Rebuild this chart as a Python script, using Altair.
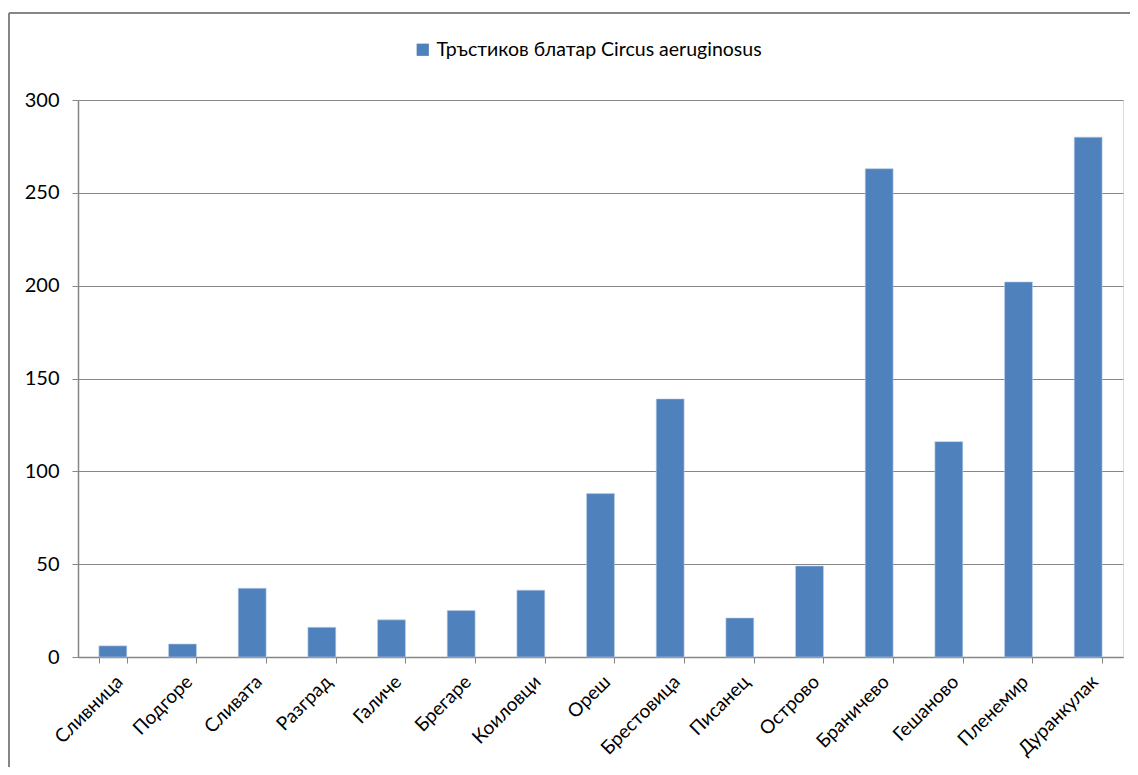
import altair as alt
import pandas as pd

categories = ["Сливница", "Подгоре", "Сливата", "Разград", "Галиче", "Брегаре", "Коиловци",
              "Ореш", "Брестовица", "Писанец", "Острово", "Браничево", "Гешаново", "Пленемир", "Дуранкулак"]
values = [6, 7, 37, 16, 20, 25, 36, 88, 139, 21, 49, 263, 116, 202, 280]
series_name = "Тръстиков блатар Circus aeruginosus"
y_ticks = [0, 50, 100, 150, 200, 250, 300]

df = pd.DataFrame({"place": categories, "value": values, "series": series_name})

FONT = "Lato"
GREY = "#868686"

bars = alt.Chart(df).mark_bar(color="#4F81BD", stroke="#B9CDE5", strokeWidth=0.6).encode(
    x=alt.X("place:N", sort=categories, title=None,
            scale=alt.Scale(paddingInner=0.6, paddingOuter=0.3),
            axis=alt.Axis(labelAngle=-45, labelFontSize=19, labelFont=FONT, labelColor="#000000",
                          tickBand="extent", tickSize=6, tickColor=GREY, domainColor=GREY,
                          domainWidth=1.5, labelPadding=9, grid=False, labelLimit=0)),
    y=alt.Y("value:Q", title=None,
            scale=alt.Scale(domain=[0, 300], nice=False),
            axis=alt.Axis(values=y_ticks, labelFontSize=20, labelFont=FONT, labelColor="#000000",
                          tickSize=6, tickColor=GREY, domainColor=GREY, domainWidth=1.5,
                          labelPadding=13, grid=True, gridColor=GREY, gridWidth=1)),
    color=alt.Color("series:N", scale=alt.Scale(range=["#4F81BD"]),
                    legend=alt.Legend(title=None, orient="none", legendX=335, legendY=-60,
                                      symbolType="square", symbolSize=150, symbolStrokeWidth=0,
                                      labelFontSize=19.5, labelFont=FONT, labelColor="#000000",
                                      labelOffset=4, labelLimit=0)),
)

border_top = alt.Chart(df).mark_rule(color=GREY, strokeWidth=2).encode(
    x=alt.value(-69), x2=alt.value(1060), y=alt.value(-87)
)
border_left = alt.Chart(df).mark_rule(color=GREY, strokeWidth=2).encode(
    x=alt.value(-69), y=alt.value(-87), y2=alt.value(690)
)

chart = alt.layer(bars, border_top, border_left).properties(
    width=1045, height=557,
    padding={"left": 70, "top": 92, "right": 7, "bottom": 110},
    autosize=alt.AutoSizeParams(type="none"),
).configure_view(stroke=None).configure(background="#ffffff")

chart.save("out.html", embed_options={"renderer": "svg", "actions": False})
